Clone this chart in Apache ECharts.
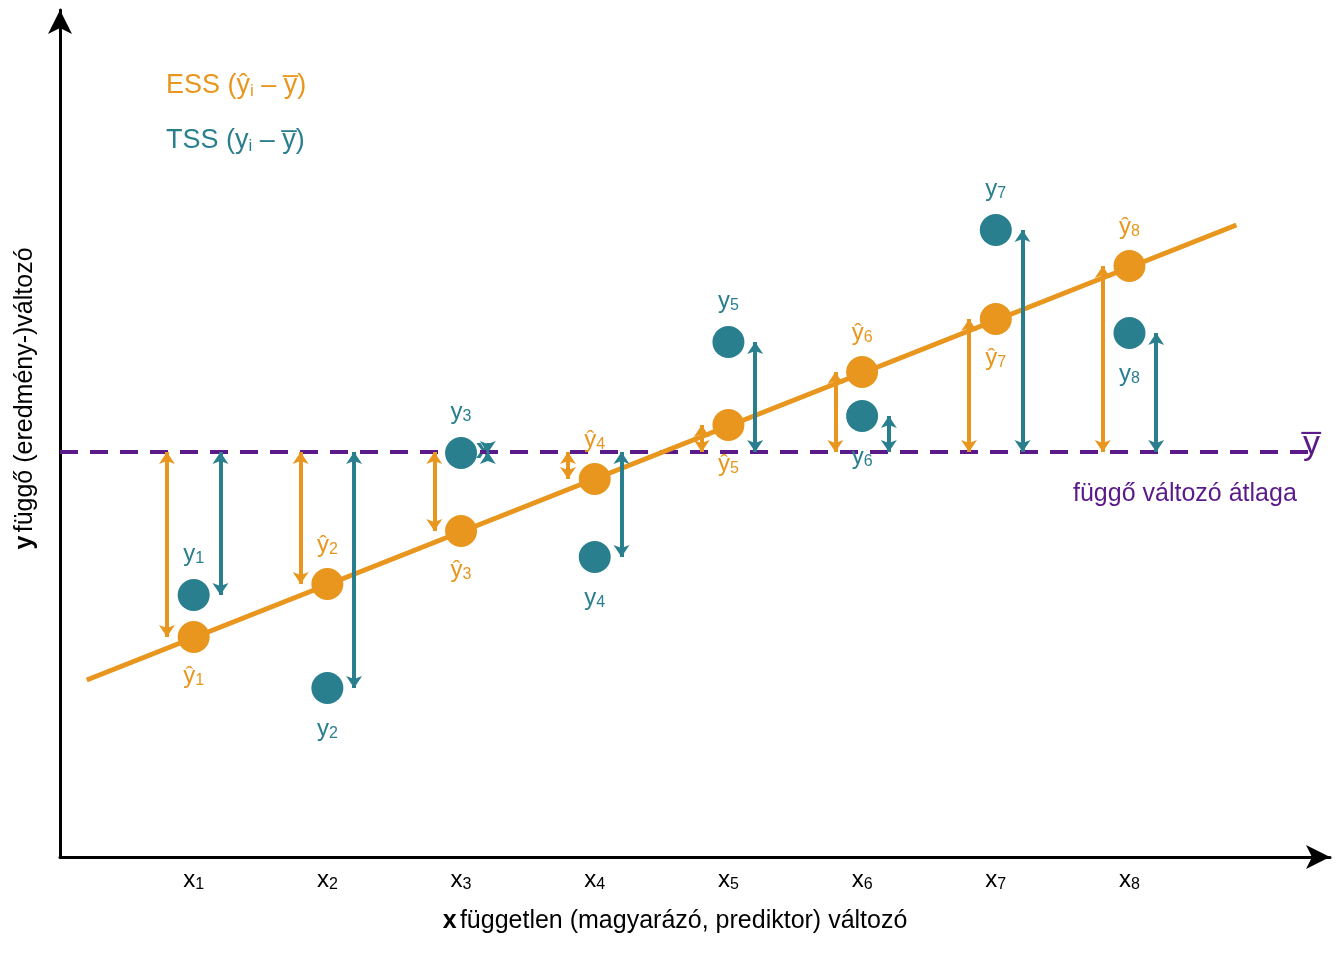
<!DOCTYPE html>
<html><head><meta charset="utf-8">
<script src="https://cdn.jsdelivr.net/npm/echarts@6/dist/echarts.min.js"></script>
<style>html,body{margin:0;background:#fff}#c{width:1344px;height:960px}</style>
</head><body><div id="c"></div>
<script>
const xs = [1, 2, 3, 4, 5, 6, 7, 8];
const yHat = [2.20, 2.73, 3.26, 3.78, 4.32, 4.85, 5.38, 5.91];
const yObs = [2.62, 1.69, 4.04, 3.00, 5.15, 4.41, 6.27, 5.24];
const yMean = 4.05;
const lineStart = [0.2, 1.77];
const lineEnd = [8.8, 6.32];
// label placement: 1 = above, -1 = below
const obsSide = [1, -1, 1, -1, 1, -1, 1, -1];
const hatSide = [-1, 1, -1, 1, -1, 1, -1, 1];

const ORANGE = '#e8961e', TEAL = '#2a7f8f', PURPLE = '#5b1a8a';
const F = 'Liberation Sans, Arial, sans-serif';
const sub = {
  b: {fontSize: 24, fontFamily: F},
  s: {fontSize: 16, fontFamily: F, padding: [10, 0, 0, 0]}
};

const ess = xs.map((x, i) => ({coords: [[x - 0.2, yHat[i]], [x - 0.2, yMean]]}));
const tss = xs.map((x, i) => ({coords: [[x + 0.2, yObs[i]], [x + 0.2, yMean]]}));

const chart = echarts.init(document.getElementById('c'));
chart.setOption({
  animation: false,
  grid: {left: 60, right: 14, top: 10, bottom: 103},
  xAxis: {
    type: 'value', min: 0, max: 9.5, interval: 1,
    splitLine: {show: false}, axisTick: {show: false},
    axisLine: {lineStyle: {color: '#000', width: 3}, symbol: ['none', 'arrow'], symbolSize: [18, 24]},
    axisLabel: {color: '#000', margin: 10, showMaxLabel: false,
      formatter: v => (v >= 1 && v <= 8) ? '{b|x}{s|' + v + '}' : '',
      rich: sub},
    name: '{bb|x} {n|független (magyarázó, prediktor) változó}',
    nameLocation: 'middle', nameGap: 52,
    nameTextStyle: {rich: {bb: {fontSize: 25, fontWeight: 'bold', fontFamily: F}, n: {fontSize: 25, fontFamily: F}}, padding: [0, 40, 0, 0]}
  },
  yAxis: {
    type: 'value', min: 0, max: 8.47,
    splitLine: {show: false}, axisTick: {show: false}, axisLabel: {show: false},
    axisLine: {lineStyle: {color: '#000', width: 3}, symbol: ['none', 'arrow'], symbolSize: [18, 24]},
    name: '{bb|y} {n|függő (eredmény-)változó}',
    nameLocation: 'middle', nameGap: 22, nameRotate: 90,
    nameTextStyle: {rich: {bb: {fontSize: 25, fontWeight: 'bold', fontFamily: F}, n: {fontSize: 25, fontFamily: F}}, padding: [0, 0, 0, 70]}
  },
  series: [
    {type: 'line', data: [[0, yMean], [9.35, yMean]], symbol: 'none', z: 1,
      lineStyle: {color: PURPLE, width: 4, type: [18, 12]}},
    {type: 'line', data: [lineStart, lineEnd], symbol: 'none', z: 2,
      lineStyle: {color: ORANGE, width: 5}},
    {type: 'lines', coordinateSystem: 'cartesian2d', data: ess, z: 3,
      symbol: ['arrow', 'arrow'], symbolSize: 12,
      lineStyle: {color: ORANGE, width: 4, opacity: 1}},
    {type: 'lines', coordinateSystem: 'cartesian2d', data: tss, z: 3,
      symbol: ['arrow', 'arrow'], symbolSize: 12,
      lineStyle: {color: TEAL, width: 4, opacity: 1}},
    {type: 'scatter', z: 5, symbolSize: 32, itemStyle: {color: ORANGE, opacity: 1},
      data: xs.map((x, i) => ({value: [x, yHat[i]],
        label: {show: true, position: hatSide[i] > 0 ? 'top' : 'bottom', distance: 10,
          color: ORANGE, formatter: '{b|ŷ}{s|' + x + '}', rich: sub}}))},
    {type: 'scatter', z: 5, symbolSize: 32, itemStyle: {color: TEAL, opacity: 1},
      data: xs.map((x, i) => ({value: [x, yObs[i]],
        label: {show: true, position: obsSide[i] > 0 ? 'top' : 'bottom', distance: 12,
          color: TEAL, formatter: '{b|y}{s|' + x + '}', rich: sub}}))}
  ],
  graphic: [
    {type: 'text', left: 166, top: 72, style: {text: 'ESS (ŷ{s|i} – y̅)', fill: ORANGE, font: '27px ' + F,
      rich: {s: {fontSize: 17, fill: ORANGE, padding: [12, 0, 0, 0]}}}},
    {type: 'text', left: 166, top: 127, style: {text: 'TSS (y{s|i} – y̅)', fill: TEAL, font: '27px ' + F,
      rich: {s: {fontSize: 17, fill: TEAL, padding: [12, 0, 0, 0]}}}},
    {type: 'text', left: 476, top: 436, style: {text: 'x', fill: TEAL, font: 'bold 28px ' + F}},
    {type: 'text', left: 1303, top: 428, style: {text: 'y̅', fill: PURPLE, font: '34px ' + F}},
    {type: 'text', left: 1073, top: 482, style: {text: 'függő változó átlaga', fill: PURPLE, font: '25px ' + F}}
  ]
});
</script></body></html>
